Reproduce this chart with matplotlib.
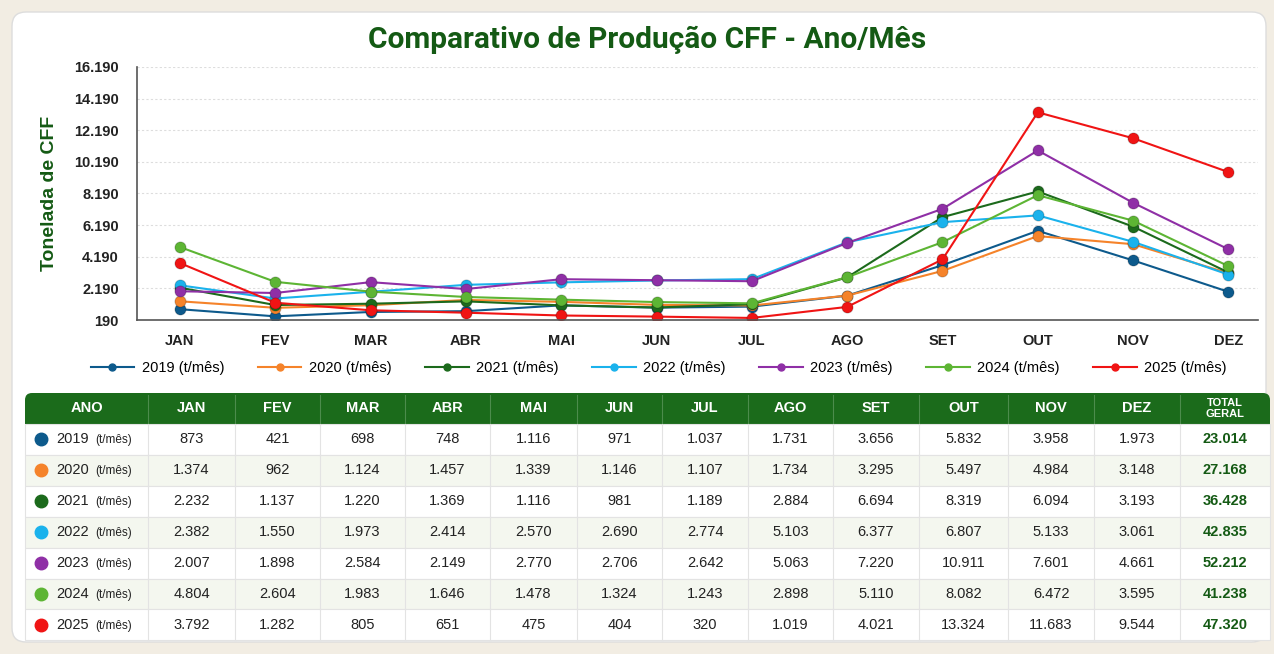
import matplotlib
matplotlib.use('Agg')
import matplotlib.pyplot as plt
from matplotlib.patches import FancyBboxPatch, Rectangle
from matplotlib.lines import Line2D

plt.rcParams['font.family'] = ['Liberation Sans', 'DejaVu Sans']

meses = ['JAN', 'FEV', 'MAR', 'ABR', 'MAI', 'JUN', 'JUL', 'AGO', 'SET', 'OUT', 'NOV', 'DEZ']
anos = ['2019', '2020', '2021', '2022', '2023', '2024', '2025']
prod_2019 = [873, 421, 698, 748, 1116, 971, 1037, 1731, 3656, 5832, 3958, 1973]
prod_2020 = [1374, 962, 1124, 1457, 1339, 1146, 1107, 1734, 3295, 5497, 4984, 3148]
prod_2021 = [2232, 1137, 1220, 1369, 1116, 981, 1189, 2884, 6694, 8319, 6094, 3193]
prod_2022 = [2382, 1550, 1973, 2414, 2570, 2690, 2774, 5103, 6377, 6807, 5133, 3061]
prod_2023 = [2007, 1898, 2584, 2149, 2770, 2706, 2642, 5063, 7220, 10911, 7601, 4661]
prod_2024 = [4804, 2604, 1983, 1646, 1478, 1324, 1243, 2898, 5110, 8082, 6472, 3595]
prod_2025 = [3792, 1282, 805, 651, 475, 404, 320, 1019, 4021, 13324, 11683, 9544]
total_geral = [23014, 27168, 36428, 42835, 52212, 41238, 47320]
yticks = [190, 2190, 4190, 6190, 8190, 10190, 12190, 14190, 16190]

series = [prod_2019, prod_2020, prod_2021, prod_2022, prod_2023, prod_2024, prod_2025]
cores = ['#0d5a8c', '#f5832a', '#1c6a1c', '#1ab2ec', '#8f2fa6', '#5db534', '#f01414']

W, H = 1274, 654
verde = '#145a14'


def fmt(v):
    return f"{v:,}".replace(",", ".")


fig = plt.figure(figsize=(W / 100, H / 100), dpi=100, facecolor='#f2ede3')

# background card
bg = fig.add_axes([0, 0, 1, 1], zorder=0)
bg.set_xlim(0, W)
bg.set_ylim(H, 0)
bg.axis('off')
bg.add_patch(FancyBboxPatch((12, 12), W - 20, H - 24, boxstyle='round,pad=0,rounding_size=14',
                            facecolor='white', edgecolor='#dddddd', lw=1))

# line chart
ax = fig.add_axes([137 / W, 1 - 320 / H, (1258 - 137) / W, (320 - 67) / H], zorder=2)
ax.set_facecolor('none')
x = list(range(len(meses)))
for ano, vals, cor in zip(anos, series, cores):
    ax.plot(x, vals, color=cor, lw=1.5, marker='o', ms=8, mfc=cor, mec='#00000030', mew=0.8,
            label=f'{ano} (t/mês)')
ax.set_xlim(-0.45, 11.31)
ax.set_ylim(190, 16190)
ax.set_yticks(yticks)
ax.set_yticklabels([fmt(v) for v in yticks], fontsize=10.5, fontweight='bold', color='#222222')
ax.set_xticks(x)
ax.set_xticklabels(meses, fontsize=10.5, fontweight='bold', color='#222222')
ax.tick_params(length=0, pad=10)
ax.tick_params(axis='y', pad=13)
ax.grid(axis='y', ls=(0, (2, 2)), color='#dddddd', lw=0.8)
for s in ['top', 'right']:
    ax.spines[s].set_visible(False)
for s in ['left', 'bottom']:
    ax.spines[s].set_color('#555555')
    ax.spines[s].set_linewidth(1.2)
ax.set_ylabel('Tonelada de CFF', fontsize=14, fontweight='bold', color=verde, labelpad=12)

fig.text(0.508, 1 - 40 / H, 'Comparativo de Produção CFF - Ano/Mês', ha='center', va='center',
         fontsize=21.5, fontweight='bold', color=verde, family='Roboto')

handles = [Line2D([0], [0], color=c, lw=1.5, marker='o', ms=5) for c in cores]
fig.legend(handles, [f'{a} (t/mês)' for a in anos], loc='center', ncol=7,
           bbox_to_anchor=(0.517, 1 - 368 / H), frameon=False, fontsize=10.5,
           handlelength=3, columnspacing=2.3, handletextpad=0.5)

# table
tb = fig.add_axes([0, 0, 1, 1], zorder=3)
tb.set_xlim(0, W)
tb.set_ylim(H, 0)
tb.axis('off')
col_edges = [25, 148, 235, 320, 405, 490, 577, 662, 748, 833, 919, 1008, 1094, 1180, 1270]
head_top, head_bot = 393, 424
row_h = 30.9

tb.add_patch(FancyBboxPatch((col_edges[0], head_top), col_edges[-1] - col_edges[0], head_bot - head_top,
                            boxstyle='round,pad=0,rounding_size=7', facecolor='#1b6b1b', edgecolor='none'))
tb.add_patch(Rectangle((col_edges[0], head_top + 10), col_edges[-1] - col_edges[0], head_bot - head_top - 10,
                       facecolor='#1b6b1b', edgecolor='none'))
headers = ['ANO'] + meses + ['TOTAL\nGERAL']
for i, h in enumerate(headers):
    cx = (col_edges[i] + col_edges[i + 1]) / 2
    if i > 0:
        tb.plot([col_edges[i]] * 2, [head_top + 2, head_bot], color='#4c8c4c', lw=0.8)
    tb.text(cx, (head_top + head_bot) / 2, h, ha='center', va='center', color='white',
            fontweight='bold', fontsize=8 if i == len(headers) - 1 else 10.5, linespacing=1.1)

for r, (ano, vals, tot, cor) in enumerate(zip(anos, series, total_geral, cores)):
    y0 = head_bot + r * row_h
    fc = 'white' if r % 2 == 0 else '#f4f7ef'
    tb.add_patch(Rectangle((col_edges[0], y0), col_edges[-1] - col_edges[0], row_h,
                           facecolor=fc, edgecolor='#e3e3e3', lw=0.8))
    yc = y0 + row_h / 2
    for i in range(1, len(col_edges) - 1):
        tb.plot([col_edges[i]] * 2, [y0, y0 + row_h], color='#e3e3e3', lw=0.8)
    tb.plot(41, yc, 'o', ms=9, color=cor)
    tb.text(56, yc, ano, ha='left', va='center', fontsize=10.5, color='#222222')
    tb.text(95, yc + 1, '(t/mês)', ha='left', va='center', fontsize=8.5, color='#222222')
    for i, v in enumerate(vals):
        cx = (col_edges[i + 1] + col_edges[i + 2]) / 2
        tb.text(cx, yc, fmt(v), ha='center', va='center', fontsize=10.5, color='#222222')
    cx = (col_edges[-2] + col_edges[-1]) / 2
    tb.text(cx, yc, fmt(tot), ha='center', va='center', fontsize=10.5,
            fontweight='bold', color=verde)

fig.savefig('out.png', dpi=100, facecolor=fig.get_facecolor())
